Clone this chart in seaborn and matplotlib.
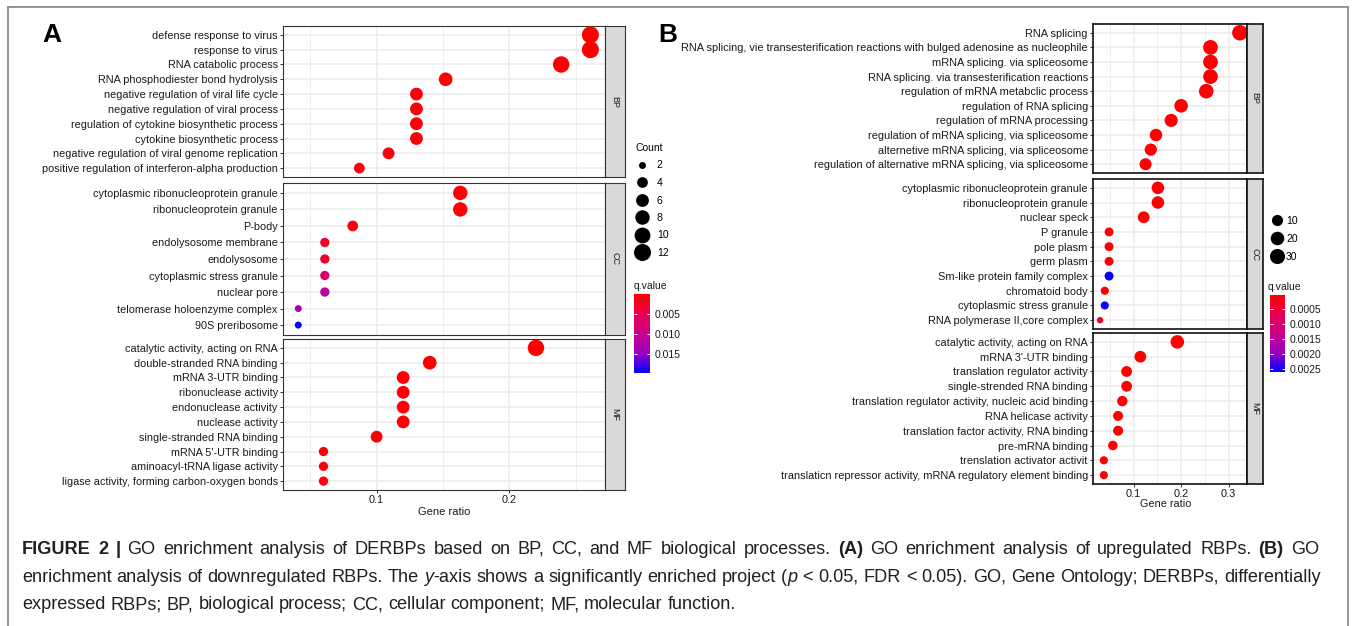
import matplotlib
matplotlib.use("Agg")
import matplotlib.pyplot as plt
from matplotlib.colors import LinearSegmentedColormap, Normalize, PowerNorm
from matplotlib.cm import ScalarMappable
from matplotlib.lines import Line2D
import seaborn as sns
import pandas as pd

# ---- panel A (upregulated RBPs) ----
a_bp_terms = ["defense response to virus", "response to virus", "RNA catabolic process",
              "RNA phosphodiester bond hydrolysis", "negative regulation of viral life cycle",
              "negative regulation of viral process", "regulation of cytokine biosynthetic process",
              "cytokine biosynthetic process", "negative regulation of viral genome replication",
              "positive regulation of interferon-alpha production"]
a_bp_ratio = [0.261, 0.261, 0.239, 0.152, 0.130, 0.130, 0.130, 0.130, 0.109, 0.087]
a_bp_count = [12, 12, 11, 7, 6, 6, 6, 6, 5, 4]
a_bp_q = [0.0002, 0.0002, 0.0003, 0.0004, 0.0006, 0.0006, 0.0007, 0.0007, 0.0008, 0.0009]

a_cc_terms = ["cytoplasmic ribonucleoprotein granule", "ribonucleoprotein granule", "P-body",
              "endolysosome membrane", "endolysosome", "cytoplasmic stress granule",
              "nuclear pore", "telomerase holoenzyme complex", "90S preribosome"]
a_cc_ratio = [0.163, 0.163, 0.082, 0.061, 0.061, 0.061, 0.061, 0.041, 0.041]
a_cc_count = [8, 8, 4, 3, 3, 3, 3, 2, 2]
a_cc_q = [0.0004, 0.0004, 0.0010, 0.0025, 0.0028, 0.0075, 0.0115, 0.0130, 0.0196]

a_mf_terms = ["catalytic activity, acting on RNA", "double-stranded RNA binding", "mRNA 3-UTR binding",
              "ribonuclease activity", "endonuclease activity", "nuclease activity",
              "single-stranded RNA binding", "mRNA 5'-UTR binding", "aminoacyl-tRNA ligase activity",
              "ligase activity, forming carbon-oxygen bonds"]
a_mf_ratio = [0.22, 0.14, 0.12, 0.12, 0.12, 0.12, 0.10, 0.06, 0.06, 0.06]
a_mf_count = [11, 7, 6, 6, 6, 6, 5, 3, 3, 3]
a_mf_q = [0.00005, 0.0002, 0.0003, 0.0003, 0.0004, 0.0004, 0.0005, 0.0009, 0.0010, 0.0010]

# ---- panel B (downregulated RBPs) ----
b_bp_terms = ["RNA splicing",
              "RNA splicing, vie transesterification reactions with bulged adenosine as nucleophile",
              "mRNA splicing. via spliceosome", "RNA splicing. via transesterification reactions",
              "regulation of mRNA metabclic process", "regulation of RNA splicing",
              "regulation of mRNA processing", "regulation of mRNA splicing, via spliceosome",
              "alternetive mRNA splicing, via spliceosome",
              "regulation of alternative mRNA splicing, via spliceosome"]
b_bp_ratio = [0.324, 0.262, 0.262, 0.262, 0.253, 0.200, 0.179, 0.147, 0.136, 0.125]
b_bp_count = [33, 27, 27, 27, 26, 20, 18, 15, 14, 13]
b_bp_q = [0.00002, 0.00002, 0.00002, 0.00002, 0.00003, 0.00003, 0.00004, 0.00005, 0.00006, 0.00006]

b_cc_terms = ["cytoplasmic ribonucleoprotein granule", "ribonucleoprotein granule", "nuclear speck",
              "P granule", "pole plasm", "germ plasm", "Sm-like protein family complex",
              "chromatoid body", "cytoplasmic stress granule", "RNA polymerase II,core complex"]
b_cc_ratio = [0.151, 0.151, 0.121, 0.048, 0.048, 0.048, 0.048, 0.039, 0.039, 0.029]
b_cc_count = [15, 15, 12, 5, 5, 5, 5, 4, 4, 3]
b_cc_q = [0.00003, 0.00003, 0.00005, 0.00008, 0.00008, 0.00008, 0.0026, 0.0001, 0.0025, 0.0003]

b_mf_terms = ["catalytic activity, acting on RNA", "mRNA 3'-UTR binding", "translation regulator activity",
              "single-strended RNA binding", "translation regulator activity, nucleic acid binding",
              "RNA helicase activity", "translation factor activity, RNA binding", "pre-mRNA binding",
              "trenslation activator activit",
              "translaticn repressor activity, mRNA regulatory element binding"]
b_mf_ratio = [0.192, 0.114, 0.085, 0.085, 0.076, 0.067, 0.067, 0.056, 0.037, 0.037]
b_mf_count = [20, 12, 9, 9, 8, 7, 7, 6, 4, 4]
b_mf_q = [0.00002, 0.00003, 0.00004, 0.00004, 0.00005, 0.00005, 0.00006, 0.00007, 0.00008, 0.00008]

a_size_breaks = [2, 4, 6, 8, 10, 12]
b_size_breaks = [10, 20, 30]
a_q_ticks = [0.005, 0.010, 0.015]
b_q_ticks = [0.0005, 0.0010, 0.0015, 0.0020, 0.0025]

plt.rcParams["font.family"] = ["Liberation Sans", "DejaVu Sans"]

W, H = 1354, 626
fig = plt.figure(figsize=(W / 100, H / 100), dpi=100)

# red -> blue through Lab, like ggplot's default gradient
cmap = LinearSegmentedColormap.from_list(
    "q", [(0, "#FF0000"), (0.25, "#E8004F"), (0.5, "#CA0089"), (0.75, "#9A00C2"), (1, "#0000FF")])


def box(x0, y0, x1, y1):
    return [x0 / W, 1 - y1 / H, (x1 - x0) / W, (y1 - y0) / H]


def frame(terms, ratio, count, q):
    return pd.DataFrame({"term": terms, "ratio": ratio, "count": count, "q": q})


def facet(df, rect, srect, strip, xlim, major, minor, norm, snorm, sizes, fs, bottom, edge, lw):
    ax = fig.add_axes(box(*rect))
    sns.scatterplot(data=df, x="ratio", y="term", hue="q", size="count",
                    palette=cmap, hue_norm=norm, size_norm=snorm, sizes=sizes,
                    linewidth=0, legend=False, ax=ax, zorder=3)
    ax.set_xlim(*xlim)
    ax.set_ylim(len(df) - 0.4, -0.6)
    ax.set_xticks(major)
    ax.set_xticks(minor, minor=True)
    ax.set_xticklabels([f"{v:g}" for v in major])
    ax.grid(which="major", color="#EBEBEB", lw=1.1)
    ax.grid(which="minor", axis="x", color="#EBEBEB", lw=0.6)
    ax.set_axisbelow(True)
    ax.set_xlabel("")
    ax.set_ylabel("")
    ax.tick_params(which="minor", length=0)
    ax.tick_params(which="major", length=2.2, width=0.7, color="#333333",
                   labelsize=fs, labelcolor="#1A1A1A", pad=1.5)
    ax.tick_params(axis="x", bottom=bottom, labelbottom=bottom)
    for s in ax.spines.values():
        s.set_color(edge)
        s.set_linewidth(lw)

    sx = fig.add_axes(box(*srect))
    sx.set_facecolor("#D9D9D9")
    sx.set_xticks([])
    sx.set_yticks([])
    for s in sx.spines.values():
        s.set_color(edge)
        s.set_linewidth(lw)
    sx.text(0.5, 0.5, strip, rotation=-90, ha="center", va="center",
            fontsize=6.5, color="#1A1A1A", transform=sx.transAxes)
    return ax


def size_handles(values, snorm, sizes):
    out = []
    for v in values:
        s = sizes[0] + float(snorm(v)) * (sizes[1] - sizes[0])
        out.append(Line2D([], [], ls="", marker="o", color="black",
                          markersize=s ** 0.5, markeredgewidth=0))
    return out


def colorbar(rect, norm, ticks, fmt, fs):
    cax = fig.add_axes(box(*rect))
    cb = fig.colorbar(ScalarMappable(norm=norm, cmap=cmap), cax=cax)
    cb.outline.set_visible(False)
    cax.invert_yaxis()
    cb.set_ticks(ticks)
    cb.set_ticklabels([fmt % t for t in ticks])
    cax.tick_params(axis="y", left=True, right=True, direction="in", length=2.5,
                    width=0.7, color="white", labelsize=fs, labelcolor="#1A1A1A", pad=3)


# ---- panel A ----
a_norm = Normalize(0.00005, 0.0196)
a_snorm, a_sizes = PowerNorm(0.8, 2, 12), (25, 150)
a_xlim = (0.0295, 0.272)
a_major, a_minor = [0.1, 0.2], [0.05, 0.15, 0.25]
a_edge = "#333333"

facet(frame(a_bp_terms, a_bp_ratio, a_bp_count, a_bp_q), (283, 26, 605, 177), (605, 26, 625, 177),
      "BP", a_xlim, a_major, a_minor, a_norm, a_snorm, a_sizes, 7.8, False, a_edge, 0.8)
facet(frame(a_cc_terms, a_cc_ratio, a_cc_count, a_cc_q), (283, 183, 605, 335), (605, 183, 625, 335),
      "CC", a_xlim, a_major, a_minor, a_norm, a_snorm, a_sizes, 7.8, False, a_edge, 0.8)
facet(frame(a_mf_terms, a_mf_ratio, a_mf_count, a_mf_q), (283, 339, 605, 490), (605, 339, 625, 490),
      "MF", a_xlim, a_major, a_minor, a_norm, a_snorm, a_sizes, 7.8, True, a_edge, 0.8)
fig.text(444 / W, 1 - 512 / H, "Gene ratio", ha="center", va="center", fontsize=8, color="#1A1A1A")

fig.legend(size_handles(a_size_breaks, a_snorm, a_sizes), [str(v) for v in a_size_breaks],
           loc="upper left", bbox_to_anchor=(635 / W, 1 - 143 / H), frameon=False,
           title="Count", fontsize=7.5, title_fontsize=7.5, alignment="left",
           handlelength=1.4, handletextpad=0.7, labelspacing=0.72, borderpad=0, borderaxespad=0)
fig.text(634 / W, 1 - 286 / H, "q.value", ha="left", va="center", fontsize=7.5, color="#1A1A1A")
colorbar((634, 294, 650, 373), a_norm, a_q_ticks, "%.3f", 7.5)

# ---- panel B ----
b_norm = Normalize(0.00002, 0.0026)
b_snorm, b_sizes = PowerNorm(0.6, 3, 33), (21, 125)
b_xlim = (0.0141, 0.339)
b_major, b_minor = [0.1, 0.2, 0.3], [0.05, 0.15, 0.25]
b_edge = "#111111"

facet(frame(b_bp_terms, b_bp_ratio, b_bp_count, b_bp_q), (1093, 24, 1247, 173), (1247, 24, 1263, 173),
      "BP", b_xlim, b_major, b_minor, b_norm, b_snorm, b_sizes, 7.9, False, b_edge, 1.2)
facet(frame(b_cc_terms, b_cc_ratio, b_cc_count, b_cc_q), (1093, 179, 1247, 329), (1247, 179, 1263, 329),
      "CC", b_xlim, b_major, b_minor, b_norm, b_snorm, b_sizes, 7.9, False, b_edge, 1.2)
facet(frame(b_mf_terms, b_mf_ratio, b_mf_count, b_mf_q), (1093, 333, 1247, 484), (1247, 333, 1263, 484),
      "MF", b_xlim, b_major, b_minor, b_norm, b_snorm, b_sizes, 7.9, True, b_edge, 1.2)
fig.text(1166 / W, 1 - 504 / H, "Gene ratio", ha="center", va="center", fontsize=7.8, color="#1A1A1A")

fig.legend(size_handles(b_size_breaks, b_snorm, b_sizes), [str(v) for v in b_size_breaks],
           loc="upper left", bbox_to_anchor=(1270 / W, 1 - 216 / H), frameon=False,
           fontsize=7.5, handlelength=1.3, handletextpad=0.25, labelspacing=0.75,
           borderpad=0, borderaxespad=0)
fig.text(1268 / W, 1 - 287 / H, "q.value", ha="left", va="center", fontsize=7.5, color="#1A1A1A")
colorbar((1270, 295, 1285, 372), b_norm, b_q_ticks, "%.4f", 7.5)

# panel letters
fig.text(52 / W, 1 - 35 / H, "A", ha="center", va="center", fontsize=19, fontweight="bold")
fig.text(668 / W, 1 - 35 / H, "B", ha="center", va="center", fontsize=19, fontweight="bold")

# figure frame
for xs, ys in [((8, 1348), (7, 7)), ((8, 8), (7, 626)), ((1348, 1348), (7, 626))]:
    fig.add_artist(Line2D([x / W for x in xs], [1 - y / H for y in ys], color="#8C8C8C", lw=1.3))

# caption: word by word so bold / italic can mix, full lines justified
cap_color = "#231F20"
cap_size = 13.1
renderer = fig.canvas.get_renderer()


def text_width(s, **kw):
    t = fig.text(0, 0, s, fontsize=cap_size, **kw)
    w = t.get_window_extent(renderer=renderer).width
    t.remove()
    return w


space = text_width("a a") - text_width("aa")


def rich_line(x, y, parts, right=None):
    # split into words; a word touching the previous part (no space between) is glued to it
    words = []
    prev_space = True
    for txt, weight, style in parts:
        pieces = txt.split(" ")
        for i, w in enumerate(pieces):
            if w == "":
                continue
            glued = i == 0 and not prev_space and len(words) > 0
            words.append((w, weight, style, glued))
        prev_space = txt.endswith(" ")
    widths = [text_width(w, fontweight=wt, fontstyle=st) for w, wt, st, _ in words]
    gaps = sum(1 for i, w in enumerate(words) if i > 0 and not w[3])
    gap = space
    if right is not None and gaps:
        gap = space + (right - x - sum(widths) - gaps * space) / gaps
    for i, ((w, wt, st, glued), wd) in enumerate(zip(words, widths)):
        if i > 0 and not glued:
            x += gap
        fig.text(x / W, 1 - y / H, w, fontsize=cap_size, fontweight=wt, fontstyle=st,
                 va="baseline", ha="left", color=cap_color)
        x += wd


rich_line(22, 554, [("FIGURE 2 |", "bold", "normal"),
                    (" GO enrichment analysis of DERBPs based on BP, CC, and MF biological processes. ", "normal", "normal"),
                    ("(A)", "bold", "normal"),
                    (" GO enrichment analysis of upregulated RBPs. ", "normal", "normal"),
                    ("(B)", "bold", "normal"),
                    (" GO", "normal", "normal")], right=1319)
rich_line(22, 582, [("enrichment analysis of downregulated RBPs. The ", "normal", "normal"),
                    ("y", "normal", "italic"),
                    ("-axis shows a significantly enriched project (", "normal", "normal"),
                    ("p", "normal", "italic"),
                    (" < 0.05, FDR < 0.05). GO, Gene Ontology; DERBPs, differentially", "normal", "normal")],
          right=1321)
rich_line(22, 609, [("expressed RBPs; BP, biological process; CC, cellular component; MF, molecular function.",
                     "normal", "normal")])

fig.savefig("out.png", dpi=100)
